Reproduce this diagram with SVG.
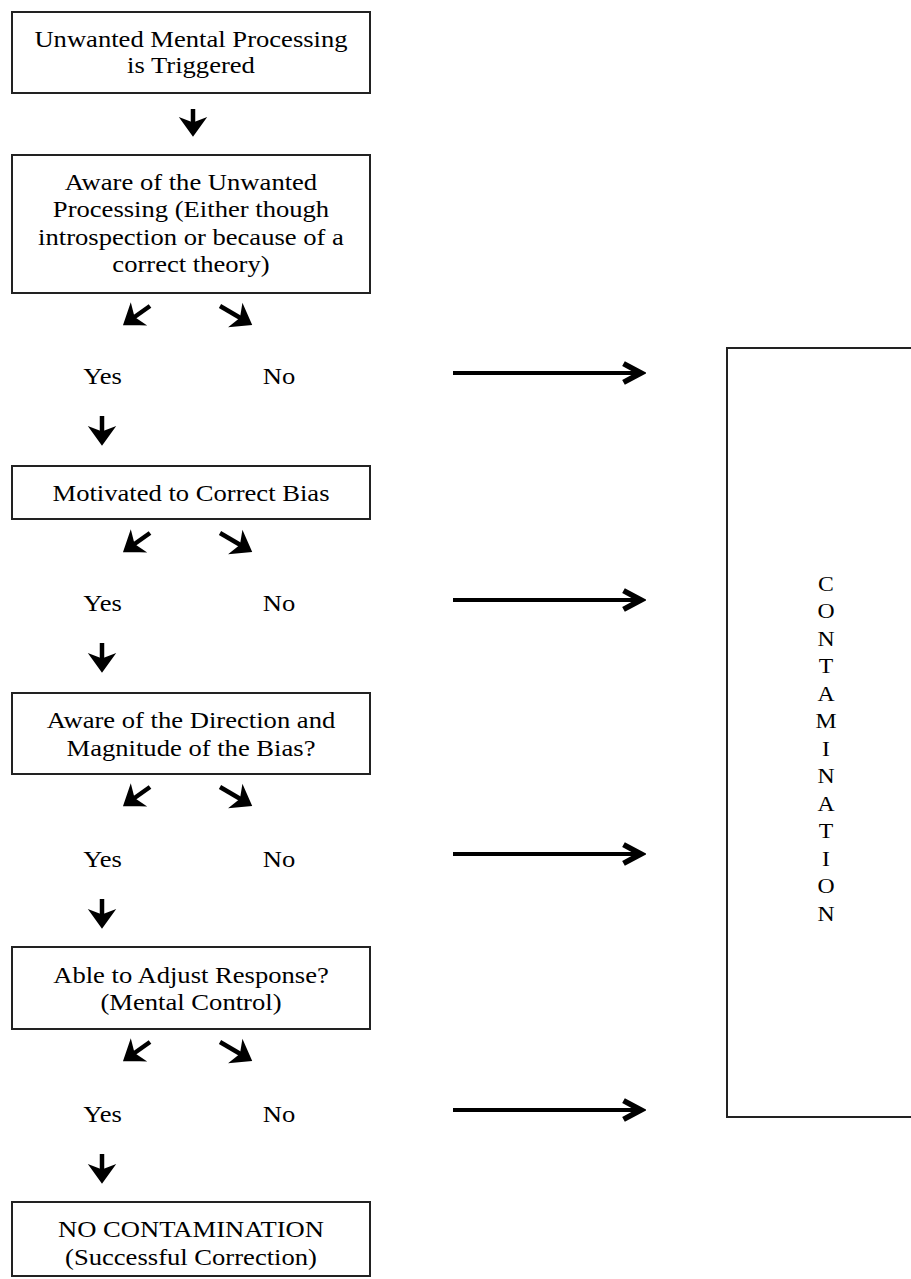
<svg xmlns="http://www.w3.org/2000/svg" width="911" height="1279" viewBox="0 0 911 1279">
<style>
.box{fill:#fff;stroke:#222;stroke-width:2}
.t{font-family:"Liberation Serif","Times New Roman",serif;font-size:23px;fill:#000;text-anchor:middle}
.c{font-family:"Liberation Serif","Times New Roman",serif;font-size:20.5px;fill:#000;text-anchor:middle}
.a{stroke:#000;stroke-width:4.5;fill:none}
.ah{stroke:#000;stroke-width:4;fill:none}
</style>
<defs>
<marker id="h" markerUnits="userSpaceOnUse" markerWidth="30" markerHeight="30" viewBox="-16 -12 20 24" refX="0" refY="0" orient="auto">
<path d="M-9,-6.5 L0,0 L-9,6.5 L-6.5,0 Z" fill="#000" stroke="#000" stroke-width="3.5" stroke-linejoin="miter"/>
</marker>
<marker id="hh" markerUnits="userSpaceOnUse" markerWidth="30" markerHeight="30" viewBox="-20 -12 24 24" refX="0" refY="0" orient="auto">
<path d="M-14,-7.5 L0,0 L-14,7.5" fill="none" stroke="#000" stroke-width="4.5"/>
</marker>
</defs>
<rect width="911" height="1279" fill="#fff"/>

<g id="n1"><rect class="box" x="12" y="12" width="358" height="81"/>
<text class="t" transform="translate(191,47) scale(1.157,1)"><tspan x="0">Unwanted Mental Processing</tspan><tspan x="0" dy="26.5">is Triggered</tspan></text></g>

<g id="n2"><rect class="box" x="12" y="155" width="358" height="138"/>
<text class="t" transform="translate(191,190) scale(1.157,1)"><tspan x="0">Aware of the Unwanted</tspan><tspan x="0" dy="27.3">Processing (Either though</tspan><tspan x="0" dy="27.3">introspection or because of a</tspan><tspan x="0" dy="27.3">correct theory)</tspan></text></g>

<g id="n3"><rect class="box" x="12" y="466" width="358" height="53"/>
<text class="t" transform="translate(191,501) scale(1.157,1)"><tspan x="0">Motivated to Correct Bias</tspan></text></g>

<g id="n4"><rect class="box" x="12" y="693" width="358" height="81"/>
<text class="t" transform="translate(191,728) scale(1.157,1)"><tspan x="0">Aware of the Direction and</tspan><tspan x="0" dy="28">Magnitude of the Bias?</tspan></text></g>

<g id="n5"><rect class="box" x="12" y="947" width="358" height="82"/>
<text class="t" transform="translate(191,983) scale(1.157,1)"><tspan x="0">Able to Adjust Response?</tspan><tspan x="0" dy="27.5">(Mental Control)</tspan></text></g>

<g id="n6"><rect class="box" x="12" y="1202" width="358" height="74"/>
<text class="t" transform="translate(191,1237) scale(1.157,1)"><tspan x="0">NO CONTAMINATION</tspan><tspan x="0" dy="28">(Successful Correction)</tspan></text></g>

<g id="contamination"><rect class="box" x="727" y="348" width="200" height="769"/>
<text class="c" transform="translate(826,0) scale(1.157,1)">
<tspan x="0" y="591">C</tspan><tspan x="0" y="618.5">O</tspan><tspan x="0" y="646">N</tspan><tspan x="0" y="673.5">T</tspan><tspan x="0" y="701">A</tspan><tspan x="0" y="728.5">M</tspan><tspan x="0" y="756">I</tspan><tspan x="0" y="783.5">N</tspan><tspan x="0" y="811">A</tspan><tspan x="0" y="838.5">T</tspan><tspan x="0" y="866">I</tspan><tspan x="0" y="893.5">O</tspan><tspan x="0" y="921">N</tspan>
</text></g>

<g id="labels">
<text class="t" transform="translate(102.5,384) scale(1.157,1)">Yes</text><text class="t" transform="translate(279,384) scale(1.157,1)">No</text>
<text class="t" transform="translate(102.5,611) scale(1.157,1)">Yes</text><text class="t" transform="translate(279,611) scale(1.157,1)">No</text>
<text class="t" transform="translate(102.5,867) scale(1.157,1)">Yes</text><text class="t" transform="translate(279,867) scale(1.157,1)">No</text>
<text class="t" transform="translate(102.5,1122) scale(1.157,1)">Yes</text><text class="t" transform="translate(279,1122) scale(1.157,1)">No</text>
</g>

<g id="connectors">
<line class="a" x1="193" y1="109" x2="193" y2="133" marker-end="url(#h)"/>
<line class="a" x1="150" y1="306" x2="126" y2="323" marker-end="url(#h)"/>
<line class="a" x1="220" y1="306" x2="249" y2="323" marker-end="url(#h)"/>
<line class="ah" x1="453" y1="373" x2="641" y2="373" marker-end="url(#hh)"/>
<line class="a" x1="102" y1="416" x2="102" y2="442" marker-end="url(#h)"/>

<line class="a" x1="150" y1="533" x2="126" y2="550" marker-end="url(#h)"/>
<line class="a" x1="220" y1="533" x2="249" y2="550" marker-end="url(#h)"/>
<line class="ah" x1="453" y1="600" x2="641" y2="600" marker-end="url(#hh)"/>
<line class="a" x1="102" y1="643" x2="102" y2="669" marker-end="url(#h)"/>

<line class="a" x1="150" y1="787" x2="126" y2="804" marker-end="url(#h)"/>
<line class="a" x1="220" y1="787" x2="249" y2="804" marker-end="url(#h)"/>
<line class="ah" x1="453" y1="854" x2="641" y2="854" marker-end="url(#hh)"/>
<line class="a" x1="102" y1="899" x2="102" y2="925" marker-end="url(#h)"/>

<line class="a" x1="150" y1="1042" x2="126" y2="1059" marker-end="url(#h)"/>
<line class="a" x1="220" y1="1042" x2="249" y2="1059" marker-end="url(#h)"/>
<line class="ah" x1="453" y1="1110" x2="641" y2="1110" marker-end="url(#hh)"/>
<line class="a" x1="102" y1="1154" x2="102" y2="1180" marker-end="url(#h)"/>
</g>
</svg>
